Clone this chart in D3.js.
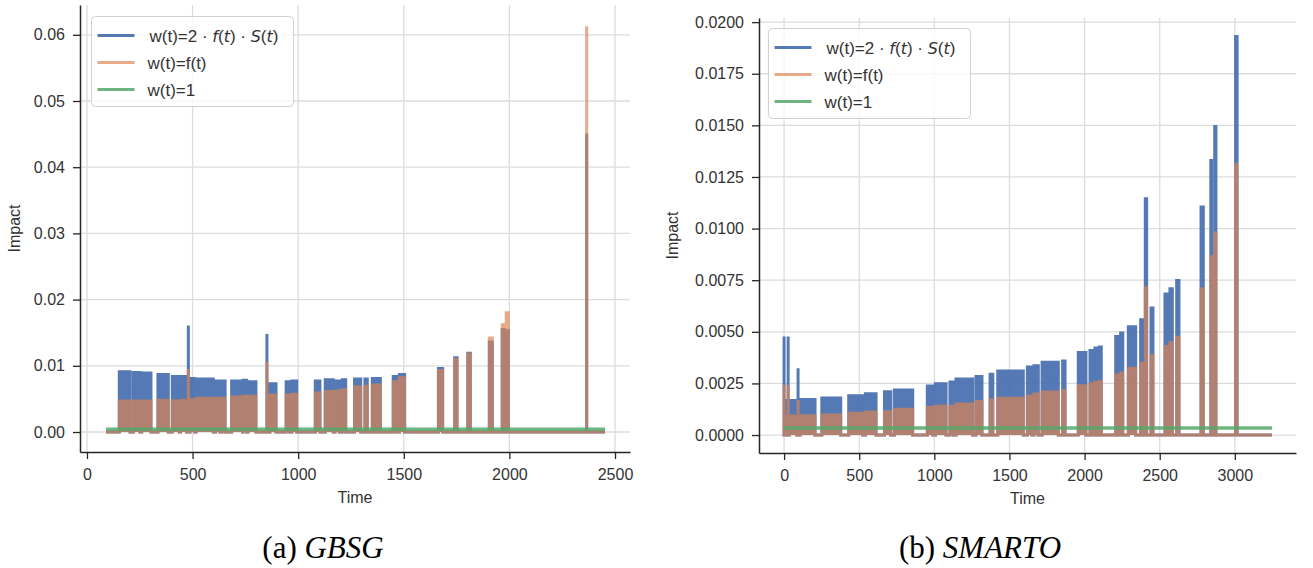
<!DOCTYPE html>
<html>
<head>
<meta charset="utf-8">
<script src="https://cdn.jsdelivr.net/npm/d3@7"></script>
<style>
  body { margin: 0; background: #fff; }
  text { font-family: "Liberation Sans", Arial, sans-serif; }
</style>
</head>
<body>
<svg width="1313" height="568"></svg>
<script>
// legend labels
var seriesNames = ["w(t)=2 · f(t) · S(t)", "w(t)=f(t)", "w(t)=1"];

// GBSG: event time spans [start, end] and impact per weighting
var gbsgTime = [[153,204],[219,251],[259,303],[336,385],[404,437],[443,472],[480,480],[488,511],
    [516,598],[609,630],[638,654],[685,737],[739,756],[762,800],[852,852],[866,895],[943,960],
    [970,993],[1081,1103],[1128,1166],[1174,1195],[1209,1225],[1267,1296],[1316,1327],[1351,1365],
    [1375,1389],[1450,1466],[1479,1504],[1664,1684],[1741,1752],[1803,1815],[1905,1919],[1966,1975],
    [1985,1995],[2366,2366]];
var gbsgBlue = [0.0091,0.0090,0.0089,0.0087,0.0084,0.0084,0.0161,0.0081,0.0080,0.0077,0.0077,0.0077,
    0.0078,0.0076,0.0148,0.0073,0.0076,0.0077,0.0077,0.0079,0.0077,0.0079,0.0080,0.0080,0.0081,0.0081,
    0.0084,0.0087,0.0096,0.0112,0.0119,0.0136,0.0155,0.0153,0.0451];
var gbsgOrange = [0.0047,0.0047,0.0047,0.0048,0.0047,0.0048,0.0095,0.0049,0.0051,0.0051,0.0051,0.0053,
    0.0054,0.0054,0.0106,0.0056,0.0056,0.0057,0.0059,0.0061,0.0062,0.0064,0.0068,0.0069,0.0071,0.0071,
    0.0076,0.0082,0.0093,0.0110,0.0118,0.0142,0.0162,0.0180,0.0613];
var gbsgSpan = [90, 2453];
var gbsgUniform = 0.0004;

// SMARTO
var smartoTime = [[0,0],[8,20],[27,27],[34,85],[93,93],[106,206],[251,377],[430,523],[541,612],
    [668,710],[734,856],[953,989],[1007,1078],[1104,1127],[1144,1255],[1277,1317],[1371,1389],
    [1422,1592],[1619,1649],[1663,1692],[1717,1825],[1854,1870],[1958,2009],[2036,2049],[2069,2080],
    [2098,2111],[2207,2224],[2240,2254],[2291,2340],[2373,2391],[2404,2413],[2442,2455],[2535,2550],
    [2568,2584],[2613,2628],[2775,2790],[2840,2845],[2866,2874],[3005,3015]];
var smartoBlue = [0.00477,0.00167,0.00477,0.00167,0.00324,0.00172,0.00180,0.00190,0.00200,0.00210,
    0.00218,0.00238,0.00248,0.00257,0.00272,0.00283,0.00295,0.00310,0.00329,0.00336,0.00352,0.00359,
    0.00400,0.00409,0.00421,0.00426,0.00477,0.00494,0.00524,0.00558,0.01144,0.00615,0.00683,0.00709,
    0.00749,0.01105,0.01330,0.01495,0.01930];
var smartoOrange = [0.00243,0.00092,0.00243,0.00092,0.00170,0.00094,0.00097,0.00105,0.00112,0.00113,
    0.00125,0.00134,0.00139,0.00140,0.00150,0.00162,0.00170,0.00178,0.00189,0.00199,0.00208,0.00215,
    0.00239,0.00248,0.00256,0.00259,0.00291,0.00300,0.00324,0.00348,0.00712,0.00385,0.00429,0.00448,
    0.00474,0.00707,0.00863,0.00979,0.01310];
var smartoSpan = [0, 3247];
var smartoUniform = 0.00034;

var gbsgXTicks = [0, 500, 1000, 1500, 2000, 2500];
var gbsgYTicks = [0, 0.01, 0.02, 0.03, 0.04, 0.05, 0.06];
var smartoXTicks = [0, 500, 1000, 1500, 2000, 2500, 3000];
var smartoYTicks = [0, 0.0025, 0.005, 0.0075, 0.01, 0.0125, 0.015, 0.0175, 0.02];

var colors = ["#4c72b0", "#dd8452", "#55a868"];
var alphas = [0.95, 0.68, 0.85];

var svg = d3.select("svg");

function stemPoints(times, vals, span) {
    var pts = [[span[0], 0]];
    times.forEach(function(t, i) {
        pts.push([t[0], 0], [t[0], vals[i]], [t[1], vals[i]], [t[1], 0]);
    });
    pts.push([span[1], 0]);
    return pts;
}

function drawPanel(o) {
    var x = d3.scaleLinear().domain(o.xDomain).range([o.left, o.right]);
    var y = d3.scaleLinear().domain(o.yDomain).range([o.bottom, o.top]);
    var g = svg.append("g");

    // grid
    g.selectAll(".vgrid").data(o.xTicks).enter().append("line")
        .attr("x1", function(d) { return x(d); }).attr("x2", function(d) { return x(d); })
        .attr("y1", o.top).attr("y2", o.bottom)
        .attr("stroke", "#dcdcdc").attr("stroke-width", 1.3);
    g.selectAll(".hgrid").data(o.yTicks).enter().append("line")
        .attr("y1", function(d) { return y(d); }).attr("y2", function(d) { return y(d); })
        .attr("x1", o.left).attr("x2", o.right)
        .attr("stroke", "#dcdcdc").attr("stroke-width", 1.3);

    var line = d3.line().x(function(d) { return x(d[0]); }).y(function(d) { return y(d[1]); });

    [o.blue, o.orange].forEach(function(vals, k) {
        g.append("g").attr("opacity", alphas[k])
            .append("path")
            .attr("d", line(stemPoints(o.times, vals, o.span)))
            .attr("fill", colors[k])
            .attr("stroke", colors[k])
            .attr("stroke-width", 3)
            .attr("stroke-linejoin", "miter");
    });

    g.append("path")
        .attr("d", line([[o.span[0], o.uniform], [o.span[1], o.uniform]]))
        .attr("stroke", colors[2]).attr("stroke-width", 3.5)
        .attr("opacity", alphas[2]).attr("fill", "none");

    // axes
    var ax = g.append("g").attr("transform", "translate(0," + o.bottom + ")")
        .call(d3.axisBottom(x).tickValues(o.xTicks).tickFormat(d3.format("d"))
            .tickSize(7).tickSizeOuter(0).tickPadding(10));
    var ay = g.append("g").attr("transform", "translate(" + o.left + ",0)")
        .call(d3.axisLeft(y).tickValues(o.yTicks).tickFormat(d3.format(o.yFmt))
            .tickSize(7).tickSizeOuter(0).tickPadding(8));
    [ax, ay].forEach(function(a) {
        a.select(".domain").attr("stroke", "#262626").attr("stroke-width", 1.5);
        a.selectAll(".tick line").attr("stroke", "#262626").attr("stroke-width", 1.3);
        a.selectAll(".tick text").attr("fill", "#333").style("font-size", "16px")
            .style("font-family", "Liberation Sans, Arial, sans-serif");
    });

    g.append("text").attr("x", (o.left + o.right) / 2).attr("y", o.bottom + 51)
        .attr("text-anchor", "middle").attr("fill", "#333").style("font-size", "16px").text("Time");
    g.append("text").attr("transform", "translate(" + o.ylabX + "," + (o.top + o.bottom) / 2 + ") rotate(-90)")
        .attr("text-anchor", "middle").attr("fill", "#333").style("font-size", "16px").text("Impact");

    // legend
    var lg = g.append("g").attr("transform", "translate(" + o.legX + "," + o.legY + ")");
    lg.append("rect").attr("width", 202).attr("height", 90).attr("rx", 4)
        .attr("fill", "#fff").attr("fill-opacity", 0.8).attr("stroke", "#d0d0d0");
    seriesNames.forEach(function(name, i) {
        var ly = 19 + i * 27;
        lg.append("line").attr("x1", 6).attr("x2", 43).attr("y1", ly).attr("y2", ly)
            .attr("stroke", colors[i]).attr("stroke-width", 3).attr("opacity", alphas[i]);
        var t = lg.append("text").attr("x", 56).attr("y", ly + 6).attr("fill", "#333")
            .style("font-size", "17px");
        if (i == 0) {
            var parts = [["w(t)=2 · ", 0], ["f", 1], ["(", 0], ["t", 1], [") · ", 0], ["S", 1], ["(", 0], ["t", 1], [")", 0]];
            t.attr("x", 58);
            parts.forEach(function(p) {
                t.append("tspan").style("font-family", p[1] ? "DejaVu Sans" : null)
                    .style("font-style", p[1] ? "italic" : null)
                    .style("font-size", p[1] ? "16px" : null).text(p[0]);
            });
        } else {
            t.text(name);
        }
    });

    var cap = svg.append("text").attr("x", o.capX).attr("y", 558).attr("text-anchor", "middle")
        .style("font-family", "Liberation Serif, serif").style("font-size", "31px").attr("fill", "#000");
    cap.append("tspan").text(o.capA + " ");
    cap.append("tspan").style("font-style", "italic").text(o.capB);
}

drawPanel({
    left: 80, right: 630, top: 5, bottom: 452,
    xDomain: [-33, 2571], yDomain: [-0.00302, 0.0645],
    xTicks: gbsgXTicks, yTicks: gbsgYTicks, yFmt: ".2f",
    times: gbsgTime, blue: gbsgBlue, orange: gbsgOrange, span: gbsgSpan, uniform: gbsgUniform,
    ylabX: 20, legX: 91.5, legY: 16.5, capX: 323, capA: "(a)", capB: "GBSG"
});

drawPanel({
    left: 759, right: 1296, top: 18, bottom: 453,
    xDomain: [-167, 3407], yDomain: [-0.00087, 0.0202],
    xTicks: smartoXTicks, yTicks: smartoYTicks, yFmt: ".4f",
    times: smartoTime, blue: smartoBlue, orange: smartoOrange, span: smartoSpan, uniform: smartoUniform,
    ylabX: 678, legX: 768.5, legY: 28.5, capX: 980, capA: "(b)", capB: "SMARTO"
});
</script>
</body>
</html>
